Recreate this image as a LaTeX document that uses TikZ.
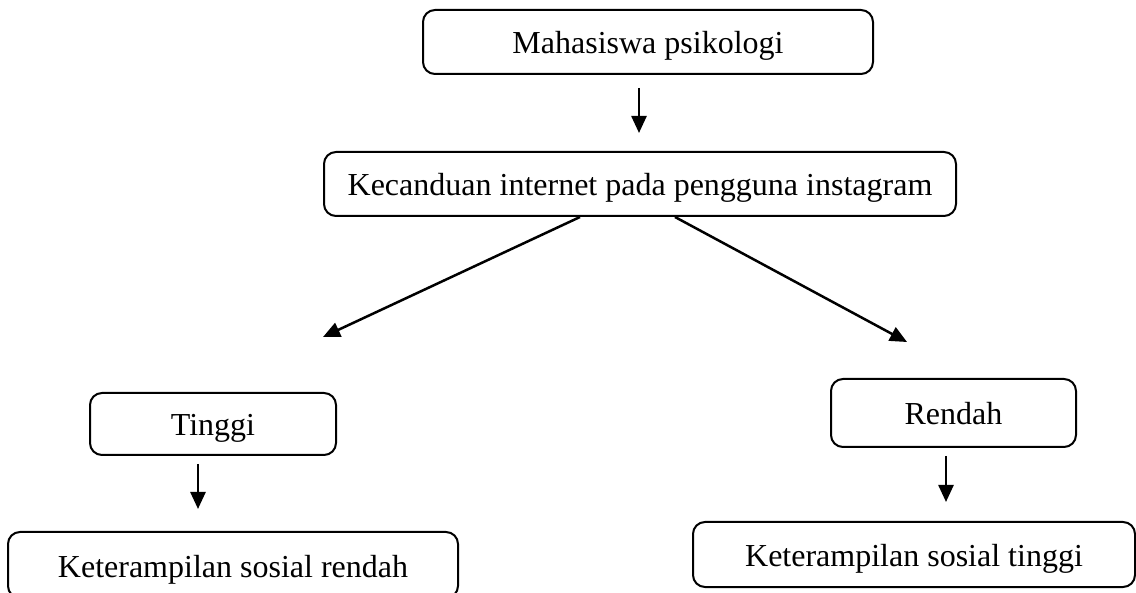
\documentclass[tikz,border=0pt]{standalone}
\usepackage{fontspec}
\setmainfont{Liberation Serif}
\usepackage{tikz}
\usetikzlibrary{arrows.meta,positioning}

\begin{document}
\begin{tikzpicture}[x=1pt,y=-1pt]
        \tikzstyle{roundblock}=[rectangle, draw, rounded corners=12pt, line width=2pt, inner sep=0pt, text height=24pt, text depth=0pt, font=\fontsize{32}{38}\selectfont]
        \tikzstyle{arr}=[-{Triangle[length=17pt,width=15pt]}, line width=2.5pt]
        \useasboundingbox (0,0) rectangle (1136,593);
        \clip (0,0) rectangle (1136,593);
        \node[roundblock, minimum width=450pt, minimum height=64pt] (mhs) at (648,42) {Mahasiswa psikologi};
        \node[roundblock, minimum width=632pt, minimum height=64pt] (adiksi) at (640,184) {Kecanduan internet pada pengguna instagram};
        \node[roundblock, minimum width=246pt, minimum height=62pt] (tinggi) at (213,424) {Tinggi};
        \node[roundblock, minimum width=245pt, minimum height=68pt] (rendah) at (953.5,413) {Rendah};
        \node[roundblock, minimum width=450pt, minimum height=66pt] (sosrendah) at (233,565) {Keterampilan sosial rendah};
        \node[roundblock, minimum width=442pt, minimum height=65pt] (sostinggi) at (914,554.5) {Keterampilan sosial tinggi};
        \coordinate (tipL) at (323,337);
        \coordinate (tipR) at (907,342);
        \draw [arr] ([xshift=-9pt,yshift=-13pt]mhs.south) -- ++(0,45);
        \draw [arr] ([xshift=-60pt]adiksi.south) -- (tipL);
        \draw [arr] ([xshift=35pt]adiksi.south) -- (tipR);
        \draw [arr] ([xshift=-15pt,yshift=-8pt]tinggi.south) -- ++(0,45);
        \draw [arr] ([xshift=-7.5pt,yshift=-8pt]rendah.south) -- ++(0,46);
      \end{tikzpicture}
\end{document}
